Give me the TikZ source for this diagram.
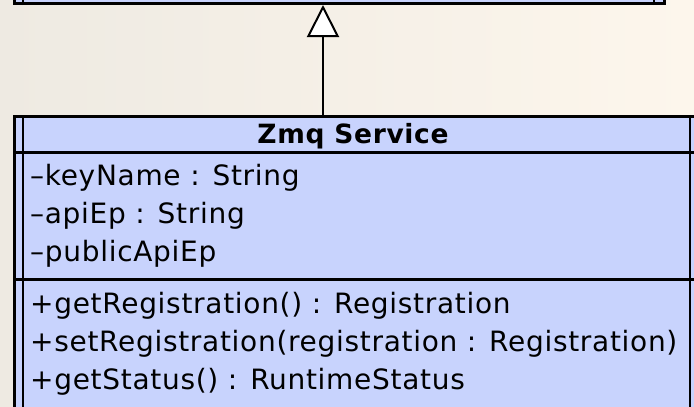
\documentclass[tikz,border=0pt]{standalone}
\usepackage{fontspec}
\setmainfont{DejaVu Sans}[LetterSpace=2.5]
\usetikzlibrary{calc,arrows.meta,positioning}

\begin{document}
\begin{tikzpicture}[x=1pt, y=-1pt, >=Stealth]
    % Coordinates & parameters
    \def\rowGap{38}
    \def\memberX{30}

    % Colors
    \definecolor{classFill}{HTML}{C8D3FD}
    \definecolor{paperLeft}{HTML}{EEEAE2}
    \definecolor{paperRight}{HTML}{FDF6EC}

    \tikzset{
        umlbox/.style={draw=black, line width=3pt, fill=classFill, inner sep=0pt},
        umlrule/.style={line width=3pt},
        umlside/.style={line width=2.2pt},
        member/.style={anchor=base west, inner sep=0pt, font=\fontsize{28}{32}\selectfont},
    }

    % 0. Paper background
    \useasboundingbox (0,0) rectangle (694,407);
    \clip (0,0) rectangle (694,407);
    \shade[left color=paperLeft, right color=paperRight] (0,0) rectangle (694,407);

    % 1. Parent class (only its lower edge is in view)
    \node (parent) [umlbox, anchor=south west, minimum width=650, minimum height=60] at (13,5) {};
    \draw[umlside] ($(parent.south west)+(10,0)$) -- ++(0,-60);
    \draw[umlside] ($(parent.south east)+(-12,0)$) -- ++(0,-60);

    % 2. Zmq Service class box
    \node (zmq) [umlbox, anchor=north west, minimum width=687, minimum height=320] at (13,115) {};
    \draw[umlside] ($(zmq.north west)+(10,0)$) -- ++(0,320);
    \draw[umlside] ($(zmq.north west)+(677,0)$) -- ++(0,320);
    \draw[umlrule] (zmq.west |- 0,152) -- (zmq.east |- 0,152);
    \draw[umlrule] (zmq.west |- 0,279) -- (zmq.east |- 0,279);

    \node (zmqName) [anchor=base, inner sep=0pt, font=\bfseries\fontsize{26.5}{30}\selectfont] at (353,143) {Zmq Service};

    % Attributes
    \foreach \txt [count=\i] in {{–keyName : String}, {–apiEp : String}, {–publicApiEp}} {
        \node (attr\i) [member] at (\memberX, {185 + (\i-1)*\rowGap}) {\txt};
    }

    % Operations
    \foreach \txt [count=\i] in {{+getRegistration() : Registration},
                                 {+setRegistration(registration : Registration)},
                                 {+getStatus() : RuntimeStatus}} {
        \node (op\i) [member] at (\memberX, {313 + (\i-1)*\rowGap}) {\txt};
    }

    % 3. Generalization arrow
    \coordinate (genX) at (323,0);
    \draw[line width=2pt, -{Triangle[length=32pt, width=32pt, fill=white]}]
        (zmq.north -| genX) -- (parent.south -| genX);
\end{tikzpicture}
\end{document}
